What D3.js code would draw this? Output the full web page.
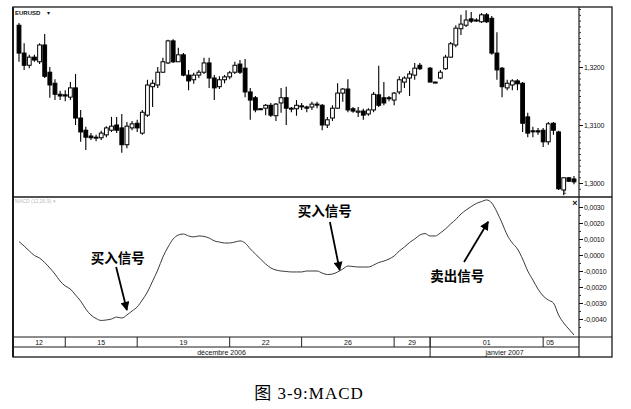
<!DOCTYPE html>
<html><head><meta charset="utf-8">
<script src="https://cdn.jsdelivr.net/npm/d3@7"></script>
<style>body{margin:0;background:#fff}svg{display:block}</style>
</head><body>
<script>
// ---------- DATA ----------
const symbol = "EURUSD";
const open = [1.3272,1.3224,1.3203,1.3217,1.3209,1.3238,1.3191,1.3172,1.3153,1.3152,
 1.3148,1.3164,1.3112,1.3091,1.3081,1.3078,1.3078,1.3083,1.3091,1.3100,
 1.3095,1.3066,1.3095,1.3103,1.3086,1.3117,1.3166,1.3169,1.3191,1.3207,
 1.3245,1.3209,1.3221,1.3186,1.3178,1.3186,1.3191,1.3207,1.3181,1.3166,
 1.3178,1.3183,1.3191,1.3205,1.3198,1.3157,1.3147,1.3128,1.3129,1.3134,
 1.3116,1.3138,1.3147,1.3128,1.3128,1.3133,1.3131,1.3131,1.3136,1.3134,
 1.3100,1.3112,1.3129,1.3155,1.3162,1.3128,1.3122,1.3124,1.3119,1.3126,
 1.3152,1.3147,1.3147,1.3143,1.3157,1.3174,1.3181,1.3186,1.3203,null,
 1.3198,1.3174,1.3181,1.3197,1.3217,1.3238,1.3266,1.3272,1.3283,1.3281,
 1.3278,1.3290,1.3284,1.3224,1.3198,1.3164,1.3169,1.3176,1.3172,1.3114,
 1.3090,1.3090,1.3091,1.3071,1.3103,1.3088,1.2988,1.3009,1.3007];
const close = [1.3224,1.3203,1.3217,1.3212,1.3238,1.3184,1.3169,1.3153,1.3150,1.3150,
 1.3164,1.3112,1.3088,1.3079,1.3078,1.3079,1.3086,1.3095,1.3098,1.3091,
 1.3066,1.3098,1.3102,1.3095,1.3122,1.3169,1.3172,1.3191,1.3209,1.3245,
 1.3209,1.3221,1.3186,1.3176,1.3186,1.3191,1.3207,1.3181,1.3164,1.3178,
 1.3183,1.3190,1.3203,1.3191,1.3157,1.3143,1.3126,1.3127,1.3134,1.3117,
 1.3136,1.3147,1.3129,1.3129,1.3134,1.3132,1.3129,1.3136,1.3135,1.3100,
 1.3109,1.3129,1.3155,1.3162,1.3126,1.3124,1.3124,1.3117,1.3126,1.3153,
 1.3134,1.3138,1.3146,1.3155,1.3178,1.3181,1.3188,1.3198,1.3197,null,
 1.3174,1.3173,1.3191,1.3217,1.3240,1.3267,1.3274,1.3281,1.3279,1.3280,
 1.3290,1.3278,1.3224,1.3195,1.3166,1.3172,1.3176,1.3171,1.3103,1.3086,
 1.3089,1.3088,1.3071,1.3102,1.3091,1.2990,1.3009,1.3003,1.3002];
const high = [1.3276,1.3241,1.3221,1.3221,1.3241,1.3257,1.3200,1.3179,1.3159,1.3160,
 1.3174,1.3188,1.3126,1.3097,1.3086,1.3083,1.3090,1.3098,1.3114,1.3114,
 1.3119,1.3105,1.3107,1.3109,1.3126,1.3178,1.3178,1.3200,1.3216,1.3247,
 1.3248,1.3233,1.3224,1.3195,1.3190,1.3195,1.3216,1.3216,1.3186,1.3184,
 1.3186,1.3193,1.3209,1.3212,1.3214,1.3164,1.3150,1.3129,1.3136,1.3138,
 1.3138,1.3164,1.3166,1.3131,1.3143,1.3138,1.3133,1.3140,1.3140,1.3136,
 1.3114,1.3134,1.3172,1.3164,1.3179,1.3131,1.3131,1.3128,1.3129,1.3157,
 1.3202,1.3174,1.3150,1.3157,1.3184,1.3184,1.3193,1.3207,1.3207,null,
 1.3200,1.3175,1.3195,1.3221,1.3243,1.3272,1.3290,1.3298,1.3295,1.3284,
 1.3293,1.3293,1.3288,1.3260,1.3200,1.3178,1.3179,1.3179,1.3174,1.3121,
 1.3097,1.3095,1.3095,1.3105,1.3105,1.3090,1.3010,1.3010,1.3012];
const low = [1.3209,1.3195,1.3198,1.3209,1.3205,1.3181,1.3147,1.3143,1.3143,1.3141,
 1.3143,1.3100,1.3071,1.3057,1.3074,1.3072,1.3074,1.3079,1.3088,1.3086,
 1.3052,1.3060,1.3091,1.3088,1.3083,1.3114,1.3131,1.3164,1.3190,1.3205,
 1.3207,1.3209,1.3184,1.3160,1.3171,1.3181,1.3188,1.3164,1.3143,1.3162,
 1.3172,1.3179,1.3188,1.3188,1.3148,1.3109,1.3122,1.3126,1.3117,1.3114,
 1.3107,1.3121,1.3100,1.3122,1.3116,1.3126,1.3122,1.3126,1.3129,1.3091,
 1.3095,1.3107,1.3128,1.3140,1.3122,1.3121,1.3114,1.3109,1.3116,1.3122,
 1.3131,1.3134,1.3141,1.3134,1.3153,1.3164,1.3150,1.3178,1.3195,null,
 1.3174,1.3173,1.3179,1.3195,1.3216,1.3234,1.3255,1.3269,1.3276,1.3278,
 1.3276,1.3276,1.3221,1.3178,1.3148,1.3160,1.3160,1.3160,1.3088,1.3079,
 1.3079,1.3083,1.3062,1.3066,1.3083,1.2988,1.2979,1.3002,1.2998];
const macd = [0.00084,0.00056,0.00025,-0.00003,-0.00019,-0.00047,-0.00081,-0.00119,-0.00163,-0.00194,
 -0.00213,-0.00250,-0.00288,-0.00338,-0.00375,-0.00397,-0.00409,-0.00406,-0.00400,-0.00388,
 -0.00394,-0.00375,-0.00350,-0.00325,-0.00281,-0.00231,-0.00163,-0.00094,-0.00013,0.00050,
 0.00100,0.00125,0.00131,0.00119,0.00113,0.00119,0.00116,0.00106,0.00088,0.00081,
 0.00075,0.00075,0.00081,0.00088,0.00075,0.00038,0.00006,-0.00025,-0.00056,-0.00081,
 -0.00094,-0.00100,-0.00103,-0.00106,-0.00106,-0.00106,-0.00100,-0.00100,-0.00100,-0.00113,
 -0.00122,-0.00119,-0.00106,-0.00088,-0.00069,-0.00072,-0.00075,-0.00075,-0.00075,-0.00063,
 -0.00047,-0.00038,-0.00025,-0.00006,0.00025,0.00050,0.00078,0.00100,0.00125,0.00134,
 0.00119,0.00119,0.00138,0.00163,0.00194,0.00222,0.00256,0.00281,0.00303,0.00322,
 0.00334,0.00344,0.00325,0.00269,0.00200,0.00125,0.00075,0.00038,-0.00025,-0.00100,
 -0.00156,-0.00213,-0.00256,-0.00281,-0.00300,-0.00375,-0.00425,-0.00463,-0.00500];
const priceTicks = [1.3000, 1.3100, 1.3200];
const macdTicks = [0.0030, 0.0020, 0.0010, 0.0000, -0.0010, -0.0020, -0.0030, -0.0040];
const dayLabels = ["12","15","19","22","26","29","01","05"];
const daySeparators = [9, 23, 41, 55, 73, 80, 102];   // candle index where a new labelled day starts
const monthLabels = ["décembre 2006", "janvier 2007"];
const monthSeparators = [80];
const annText = ["买入信号", "买入信号", "卖出信号"];
const annTextAt = [[19.2, -0.00013], [59.5, 0.00281], [85.3, -0.00125]];
const annArrowFrom = [[18.9, -0.00075], [60.5, 0.00206], [86.6, -0.00044]];
const annArrowTo = [[21.0, -0.00344], [62.4, -0.00094], [91.3, 0.00208]];
const caption = "图 3-9:MACD";

// ---------- LAYOUT ----------
const W = 631, H = 409;
const F = {left: 13, right: 612, top: 7, axisX: 579, split: 197, macdBottom: 337, dayBottom: 347, bottom: 357};
const svg = d3.select("body").append("svg").attr("width", W).attr("height", H)
  .style("font-family", "'Liberation Sans', Arial, sans-serif");

const x = d3.scaleLinear().domain([0, open.length - 1]).range([19, 574]);
const yP = d3.scaleLinear().domain([1.30, 1.32]).range([183, 67]);
const yM = d3.scaleLinear().domain([-0.004, 0.003]).range([319, 207]);
const loc = d3.formatLocale({decimal: ",", thousands: ".", grouping: [3], currency: ["", ""], minus: "-"});
const fmt = loc.format(".4f");

const defs = svg.append("defs");
defs.append("clipPath").attr("id", "cTop").append("rect")
  .attr("x", F.left).attr("y", F.top).attr("width", F.axisX - F.left).attr("height", F.split - F.top);
defs.append("clipPath").attr("id", "cBot").append("rect")
  .attr("x", F.left).attr("y", F.split).attr("width", F.axisX - F.left).attr("height", F.macdBottom - F.split);
defs.append("marker").attr("id", "ah").attr("markerUnits", "userSpaceOnUse")
  .attr("viewBox", "0 0 10 10").attr("refX", 9).attr("refY", 5)
  .attr("markerWidth", 10).attr("markerHeight", 9).attr("orient", "auto")
  .append("path").attr("d", "M0,0 L10,5 L0,10 Z").attr("fill", "#000");

// ---------- CANDLES ----------
const idx = d3.range(open.length).filter(i => open[i] != null);
const gC = svg.append("g").attr("clip-path", "url(#cTop)");
const bw = 3.8;
gC.selectAll("line.wick").data(idx).join("line").attr("class", "wick")
  .attr("x1", i => x(i)).attr("x2", i => x(i))
  .attr("y1", i => yP(high[i])).attr("y2", i => yP(low[i]))
  .attr("stroke", "#000").attr("stroke-width", 1.1);
gC.selectAll("rect.body").data(idx).join("rect").attr("class", "body")
  .attr("x", i => x(i) - bw / 2).attr("width", bw)
  .attr("y", i => yP(Math.max(open[i], close[i])))
  .attr("height", i => Math.max(1, Math.abs(yP(open[i]) - yP(close[i]))))
  .attr("fill", i => close[i] > open[i] ? "#fff" : "#000")
  .attr("stroke", "#000").attr("stroke-width", 1);

// ---------- MACD ----------
const gM = svg.append("g").attr("clip-path", "url(#cBot)");
gM.append("path").datum(macd.map((v, i) => [i, v]))
  .attr("d", d3.line().x(d => x(d[0])).y(d => yM(d[1])).curve(d3.curveMonotoneX))
  .attr("fill", "none").attr("stroke", "#3a3a3a").attr("stroke-width", 1);

// ---------- FRAME ----------
const fr = svg.append("g").attr("stroke", "#1a1a1a").attr("fill", "none");
fr.append("rect").attr("x", F.left).attr("y", F.top).attr("width", F.right - F.left).attr("height", F.bottom - F.top).attr("stroke-width", 1.3);
fr.append("line").attr("x1", F.left).attr("x2", F.left).attr("y1", F.top).attr("y2", F.bottom).attr("stroke-width", 2);
fr.append("line").attr("x1", F.axisX).attr("x2", F.axisX).attr("y1", F.top).attr("y2", F.bottom).attr("stroke-width", 1.2);
fr.append("line").attr("x1", F.left).attr("x2", F.right).attr("y1", F.split).attr("y2", F.split).attr("stroke-width", 1.5);
fr.append("line").attr("x1", F.left).attr("x2", F.right).attr("y1", F.macdBottom).attr("y2", F.macdBottom).attr("stroke-width", 1.2);
fr.append("line").attr("x1", F.left).attr("x2", F.axisX).attr("y1", F.dayBottom).attr("y2", F.dayBottom).attr("stroke-width", 1);

// ---------- AXES ----------
function rightAxis(scale, ticks, minor) {
  const g = svg.append("g").attr("transform", `translate(${F.axisX},0)`);
  g.call(d3.axisRight(scale).tickValues(minor).tickSize(2).tickFormat(""))
    .call(s => s.select(".domain").remove())
    .call(s => s.selectAll("line").attr("stroke", "#333"));
  const g2 = svg.append("g").attr("transform", `translate(${F.axisX},0)`);
  g2.call(d3.axisRight(scale).tickValues(ticks).tickSize(4).tickPadding(1).tickFormat(fmt))
    .call(s => s.select(".domain").remove())
    .call(s => s.selectAll("line").attr("stroke", "#111"))
    .call(s => s.selectAll("text").attr("font-size", 7).attr("fill", "#111")
      .attr("font-family", "'Liberation Sans', Arial, sans-serif").attr("letter-spacing", -0.2));
}
rightAxis(yP, priceTicks, d3.range(1.2990, 1.3305, 0.0010).filter(v => yP(v) > F.top + 2 && yP(v) < F.split - 2));
rightAxis(yM, macdTicks, d3.range(-0.0050, 0.0036, 0.0005).filter(v => yM(v) > F.split + 2 && yM(v) < F.macdBottom - 2));

// ---------- DATE AXIS ----------
const dg = svg.append("g");
const sepX = daySeparators.map(i => x(i));
dg.selectAll("line.ds").data(sepX).join("line").attr("class", "ds")
  .attr("x1", d => d).attr("x2", d => d).attr("y1", F.macdBottom).attr("y2", F.dayBottom)
  .attr("stroke", "#222").attr("stroke-width", 1);
const bounds = [F.left, ...sepX];
dg.selectAll("text.dl").data(dayLabels).join("text").attr("class", "dl")
  .attr("x", (d, k) => k < bounds.length - 1 ? (bounds[k] + bounds[k + 1]) / 2 : bounds[k] + 3)
  .attr("text-anchor", (d, k) => k < bounds.length - 1 ? "middle" : "start")
  .attr("y", (F.macdBottom + F.dayBottom) / 2 + 2.5)
  .attr("font-size", 7).attr("fill", "#111").text(d => d);
const mSep = monthSeparators.map(i => x(i));
dg.selectAll("line.ms").data(mSep).join("line").attr("class", "ms")
  .attr("x1", d => d).attr("x2", d => d).attr("y1", F.macdBottom).attr("y2", F.bottom)
  .attr("stroke", "#222").attr("stroke-width", 1);
const mb = [F.left, ...mSep, F.axisX];
dg.selectAll("text.ml").data(monthLabels).join("text").attr("class", "ml")
  .attr("x", (d, k) => (mb[k] + mb[k + 1]) / 2).attr("text-anchor", "middle")
  .attr("y", (F.dayBottom + F.bottom) / 2 + 2.5)
  .attr("font-size", 7).attr("fill", "#111").text(d => d);

// ---------- LABELS ----------
svg.append("text").attr("x", 15).attr("y", 15).attr("font-size", 6).attr("font-weight", "bold").attr("fill", "#111").text(symbol);
svg.append("text").attr("x", 47).attr("y", 15).attr("font-size", 6).attr("fill", "#111").text("▾");
svg.append("text").attr("x", 15).attr("y", 203).attr("font-size", 5).attr("fill", "#bbb").text("MACD (12,26,9)  ▾");
svg.append("text").attr("x", F.axisX - 4).attr("y", 206).attr("text-anchor", "middle").attr("font-size", 9).attr("font-weight", "bold").attr("fill", "#111").text("×");
svg.append("text").attr("x", 563).attr("y", 194).attr("font-size", 6).attr("fill", "#111").text("1");

// ---------- ANNOTATIONS ----------
const ag = svg.append("g");
ag.selectAll("line.arr").data(annText.map((t, k) => k)).join("line").attr("class", "arr")
  .attr("x1", k => x(annArrowFrom[k][0])).attr("y1", k => yM(annArrowFrom[k][1]))
  .attr("x2", k => x(annArrowTo[k][0])).attr("y2", k => yM(annArrowTo[k][1]))
  .attr("stroke", "#000").attr("stroke-width", 1.8).attr("marker-end", "url(#ah)");
ag.selectAll("text.ann").data(annText).join("text").attr("class", "ann")
  .attr("x", (d, k) => x(annTextAt[k][0])).attr("y", (d, k) => yM(annTextAt[k][1]))
  .attr("text-anchor", "middle").attr("dominant-baseline", "central")
  .attr("font-family", "'Noto Sans CJK SC', sans-serif").attr("font-weight", "bold")
  .attr("font-size", 13.5).attr("fill", "#000").text(d => d);

// ---------- CAPTION ----------
svg.append("text").attr("x", 309).attr("y", 399).attr("text-anchor", "middle")
  .attr("font-family", "'Liberation Serif', 'Noto Sans CJK SC', serif").attr("font-size", 17)
  .attr("letter-spacing", 1).attr("fill", "#000").text(caption);
</script>
</body></html>
